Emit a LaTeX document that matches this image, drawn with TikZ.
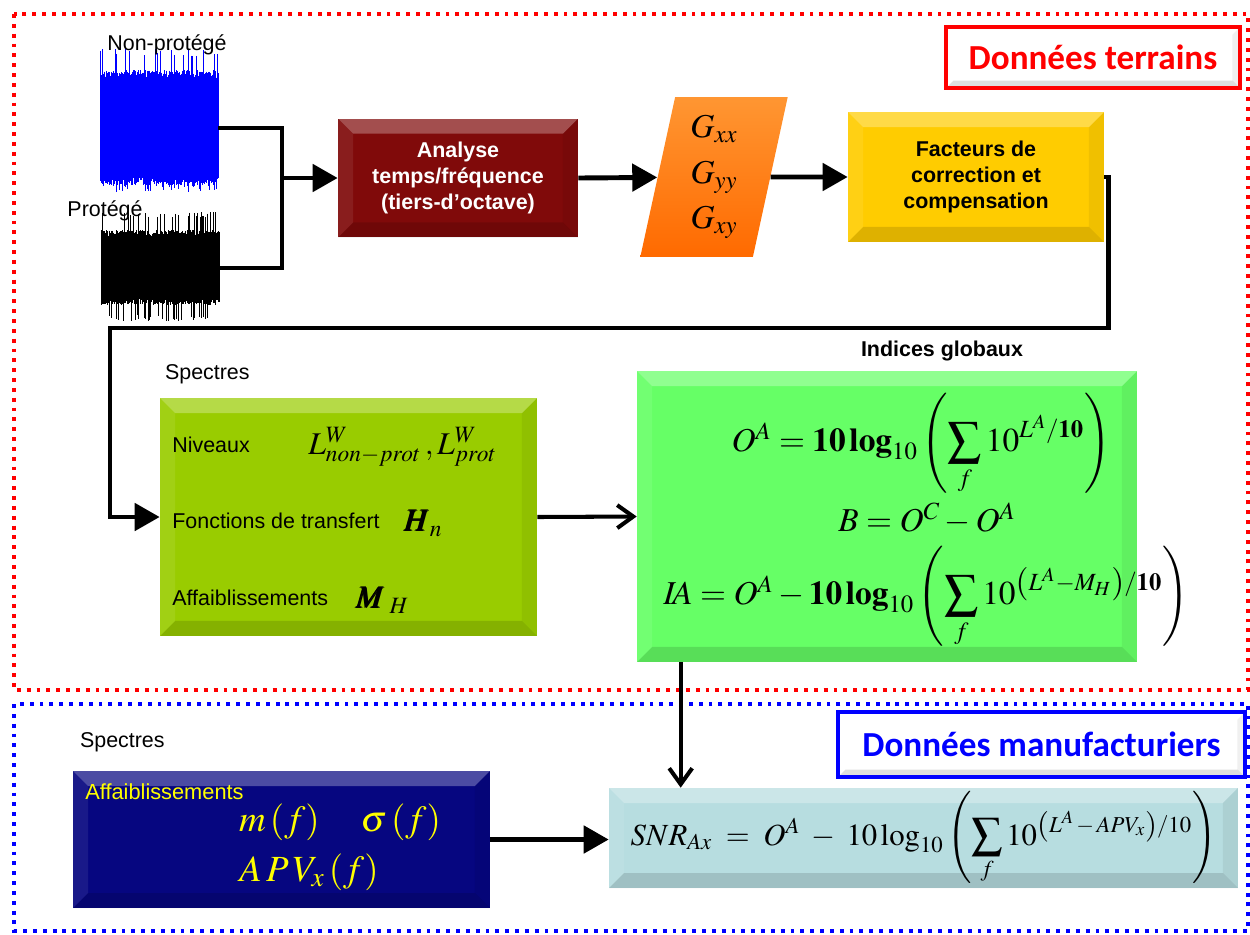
\documentclass[tikz,border=0pt]{standalone}
\usepackage{amsmath}
\usepackage{mathptmx}
\usepackage{bm}
\usepackage{fontspec}
\setmainfont{Liberation Sans}
\newfontfamily\titlefont{Carlito}
\usetikzlibrary{arrows.meta, positioning, shapes.geometric}

\definecolor{analysered}{RGB}{128,10,10}
\definecolor{gorange}{RGB}{255,106,0}
\definecolor{gorangelt}{RGB}{255,150,50}
\definecolor{factgold}{RGB}{255,204,0}
\definecolor{specolive}{RGB}{153,204,0}
\definecolor{indgreen}{RGB}{102,255,102}
\definecolor{manufnavy}{RGB}{6,6,128}
\definecolor{snrblue}{RGB}{183,221,224}
\definecolor{sigblue}{RGB}{0,0,255}
\definecolor{mathyellow}{RGB}{255,255,0}

\tikzset{
  bevel/.style={path picture={
    \path (path picture bounding box.north west) coordinate (bnw)
          (path picture bounding box.north east) coordinate (bne)
          (path picture bounding box.south west) coordinate (bsw)
          (path picture bounding box.south east) coordinate (bse);
    \fill[white,opacity=.28] (bnw) -- (bne) -- ([shift={(-#1,-#1)}]bne) -- ([shift={(#1,-#1)}]bnw) -- cycle;
    \fill[white,opacity=.08] (bnw) -- (bsw) -- ([shift={(#1,#1)}]bsw) -- ([shift={(#1,-#1)}]bnw) -- cycle;
    \fill[black,opacity=.06] (bne) -- (bse) -- ([shift={(-#1,#1)}]bse) -- ([shift={(-#1,-#1)}]bne) -- cycle;
    \fill[black,opacity=.13] (bsw) -- (bse) -- ([shift={(-#1,#1)}]bse) -- ([shift={(#1,#1)}]bsw) -- cycle;
  }},
  bevel/.default=0.3cm,
  block/.style={rectangle, bevel, inner sep=2pt, align=center},
  titlebox/.style={rectangle, fill=white, line width=2.6pt, bevel=0.15cm,
    font=\titlefont\bfseries\fontsize{20}{22}\selectfont},
  sig/.style={rectangle, inner sep=0pt, minimum width=2.36cm, minimum height=2cm},
  sigtext/.style={inner sep=0pt, font=\fontsize{12.2}{14}\selectfont},
  rowtext/.style={anchor=west, inner sep=0pt, font=\fontsize{12.2}{14}\selectfont},
  rowmath/.style={anchor=west, inner sep=0pt, font=\fontsize{18}{20}\selectfont},
  formula/.style={inner sep=0pt, font=\fontsize{19}{21}\selectfont},
  zone/.style={line width=2.2pt, dash pattern=on 2.2pt off 3.4pt},
  link/.style={line width=2.8pt},
  tri/.style={link, -{Triangle[length=0.5cm,width=0.54cm]}},
  barb/.style={line width=2.3pt, -{Straight Barb[length=0.32cm,width=0.46cm]}},
}

\begin{document}
\begin{tikzpicture}[x=0.02cm, y=-0.02cm]
  \useasboundingbox (0,0) rectangle (1250,934);

  % zones
  \draw[zone, red] (14,14) rectangle (1248,690);
  \draw[zone, sigblue] (14,704) rectangle (1248,931);

  % signals
  \pgfmathsetseed{11}
  \foreach \i in {100,100.5,...,218} {
    \pgfmathsetmacro\up{50+8*rnd+22*(rnd>0.9)}
    \pgfmathsetmacro\dn{50+8*rnd+6*(rnd>0.8)}
    \draw[sigblue, line width=0.4pt] (\i,128-\up) -- (\i,128+\dn);
  }
  \foreach \i in {101,101.5,...,219} {
    \pgfmathsetmacro\up{32+6*rnd+18*(rnd>0.88)}
    \pgfmathsetmacro\dn{31+6*rnd+16*(rnd>0.85)}
    \draw[black, line width=0.4pt] (\i,268-\up) -- (\i,268+\dn);
  }
  \node[sig] (nonprot) at (159,128) {};
  \node[sig] (prot) at (160,268) {};
  \node[sigtext] (nonprotlbl) at (167,45) {Non-protégé};
  \node[sigtext] (protlbl) at (105,211) {Protégé};
  \coordinate (join) at (282,178);

  % top chain
  \node[block, fill=analysered, minimum width=4.8cm, minimum height=2.38cm, text=white,
    font=\bfseries\fontsize{12.2}{14.6}\selectfont] (analyse) at (458,178)
    {Analyse\\temps/fréquence\\(tiers-d’octave)};
  \node[trapezium, trapezium left angle=79, trapezium right angle=101, trapezium stretches=true,
    minimum width=2.96cm, minimum height=3.2cm, top color=gorangelt, bottom color=gorange,
    align=center, font=\fontsize{19}{26}\selectfont] (gpar) at (714,177)
    {$G_{xx}$\\$G_{yy}$\\$G_{xy}$};
  \node[block, fill=factgold, minimum width=5.12cm, minimum height=2.6cm,
    font=\bfseries\fontsize{12.2}{14.6}\selectfont] (facteurs) at (976,177)
    {Facteurs de\\correction et\\compensation};

  % spectres
  \node[block, fill=specolive, minimum width=7.54cm, minimum height=4.76cm] (spectres) at (348.5,517) {};
  \node[anchor=south west, inner sep=0pt, font=\fontsize{12.2}{14}\selectfont] (spectitle)
    at ([xshift=0.1cm,yshift=0.26cm]spectres.north west) {Spectres};
  \node[rowtext] (niv) at (172,445) {Niveaux};
  \node[rowtext] (fct) at (172,521) {Fonctions de transfert};
  \node[rowtext] (aff) at (172,598) {Affaiblissements};
  \node[rowmath] (nivm) at (308,447) {$L^{W}_{non-prot}\,,L^{W}_{prot}$};
  \node[rowmath] (fctm) at (403,523) {$\bm{H}_{n}$};
  \node[rowmath] (affm) at (355,600) {$\bm{M}_{\;H}$};

  % indices globaux
  \node[block, fill=indgreen, minimum width=10cm, minimum height=5.82cm] (indices) at (887,516.5) {};
  \node[above=2pt of indices, xshift=1.1cm, font=\bfseries\fontsize{12.2}{14}\selectfont] (indtitle)
    {Indices globaux};
  \node[formula] (fOA) at (921,444)
    {$O^{A} = \mathbf{10\,log}_{10}\left(\displaystyle\sum_{f} 10^{L^{A}/\mathbf{10}}\right)$};
  \node[formula] (fB) at (927,519) {$B = O^{C} - O^{A}$};
  \node[formula] (fIA) at (926,597)
    {$I\!A = O^{A} - \mathbf{10\,log}_{10}\left(\displaystyle\sum_{f} 10^{\left(L^{A}-M_{H}\right)/\mathbf{10}}\right)$};

  % manufacturier
  \node[block, fill=manufnavy, minimum width=8.34cm, minimum height=2.74cm] (manuf) at (281.5,839.5) {};
  \node[anchor=south west, inner sep=0pt, font=\fontsize{12.2}{14}\selectfont] (spectitleb)
    at ([xshift=0.14cm,yshift=0.36cm]manuf.north west) {Spectres};
  \node[anchor=west, inner sep=0pt, text=mathyellow, font=\fontsize{12.4}{14}\selectfont] (affmanuf)
    at (85,792) {Affaiblissements};
  \node[text=mathyellow, inner sep=0pt, font=\fontsize{21}{23}\selectfont] (fmf) at (340,822)
    {$m\left(f\right)\quad\sigma\left(f\right)$};
  \node[text=mathyellow, inner sep=0pt, font=\fontsize{21}{23}\selectfont] (fapv) at (309,872)
    {$A\,P\,V_{x}\left(f\right)$};
  \node[block, fill=snrblue, minimum width=12.58cm, minimum height=2cm, inner sep=0pt,
    font=\fontsize{17.5}{19}\selectfont] (snr) at (923.5,838)
    {$SNR_{Ax} \;=\; O^{A} \;-\; 10\log_{10}\left(\displaystyle\sum_{f} 10^{\left(L^{A}\,-\,APV_{x}\right)/10}\right)$};

  % titles
  \node[titlebox, draw=red, text=red, minimum width=5.88cm, minimum height=1.22cm] (terrains)
    at (1093,57.5) {Données terrains};
  \node[titlebox, draw=sigblue, text=sigblue, minimum width=8.14cm, minimum height=1.3cm] (manuftitle)
    at (1041.5,744.5) {Données manufacturiers};

  % connectors
  \draw[link] (nonprot.east) -| (join) |- (prot.east);
  \draw[tri] (join) -- (analyse.west);
  \draw[tri] (analyse.east) -- (gpar);
  \draw[tri] (gpar) -- (facteurs.west);
  \draw[tri] (facteurs.east) -| ++(0.08cm,-3.02cm) -| (spectres.west -| 110,0) |- (spectres.west);
  \draw[barb] (spectres.east) -- (indices.west);
  \draw[barb] ([xshift=0.88cm]indices.south west) -- ([xshift=0.88cm]indices.south west |- snr.north);
  \draw[tri] (manuf.east) -- (manuf.east -| snr.west);
\end{tikzpicture}
\end{document}
